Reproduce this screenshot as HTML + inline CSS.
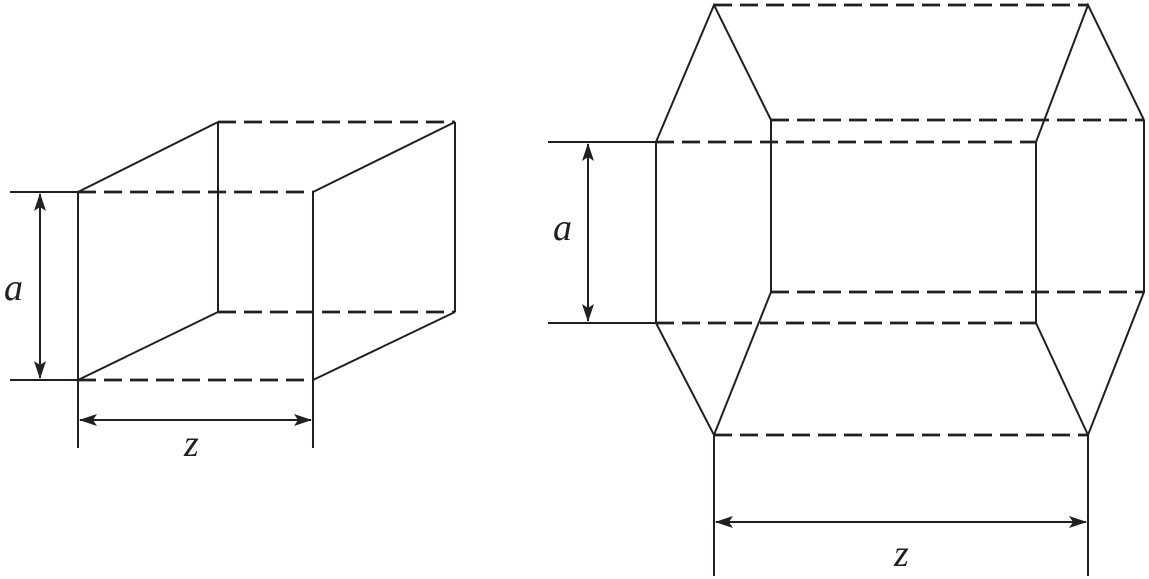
<!DOCTYPE html>
<html><head><style>html,body{margin:0;padding:0;background:#fff}svg{display:block}.t{font-family:"Liberation Serif",serif;font-style:italic;font-size:38px;fill:#231f20}</style></head>
<body>
<svg width="1149" height="579" viewBox="0 0 1149 579" xmlns="http://www.w3.org/2000/svg">
<defs>
<marker id="ar" viewBox="0 0 18 12" refX="17" refY="6" markerWidth="18" markerHeight="12" markerUnits="userSpaceOnUse" orient="auto-start-reverse">
<path d="M0,0 L18,6 L0,12 L4,6 Z" fill="#231f20"/></marker>
</defs>
<g stroke="#231f20" stroke-width="2" fill="none">
<line x1="78" y1="192" x2="78" y2="448"/>
<line x1="313" y1="192" x2="313" y2="448"/>
<line x1="218" y1="122" x2="218" y2="312"/>
<line x1="455" y1="122" x2="455" y2="312"/>
<line x1="78" y1="192" x2="218" y2="122"/>
<line x1="313" y1="192" x2="455" y2="122"/>
<line x1="78" y1="380" x2="218" y2="312"/>
<line x1="313" y1="380" x2="455" y2="312"/>
<line x1="10" y1="192" x2="78" y2="192"/>
<line x1="10" y1="380" x2="78" y2="380"/>
<line x1="40" y1="194" x2="40" y2="378" marker-start="url(#ar)" marker-end="url(#ar)"/>
<line x1="80" y1="420" x2="311" y2="420" marker-start="url(#ar)" marker-end="url(#ar)"/>
<polyline points="771,120 714,5 656,142 656,323 714,435 771,292 771,120"/>
<polyline points="1144,120 1088,5 1036,142 1036,323 1088,435 1144,292 1144,120"/>
<line x1="714" y1="435" x2="714" y2="576"/>
<line x1="1088" y1="435" x2="1088" y2="576"/>
<line x1="548" y1="142" x2="656" y2="142"/>
<line x1="548" y1="323" x2="656" y2="323"/>
<line x1="588" y1="144" x2="588" y2="321" marker-start="url(#ar)" marker-end="url(#ar)"/>
<line x1="716" y1="522" x2="1086" y2="522" marker-start="url(#ar)" marker-end="url(#ar)"/>
</g>
<g stroke="#231f20" stroke-width="2.8" fill="none" stroke-dasharray="18 8">
<line x1="78" y1="192" x2="313" y2="192"/>
<line x1="78" y1="380" x2="313" y2="380"/>
<line x1="218" y1="122" x2="455" y2="122"/>
<line x1="218" y1="312" x2="455" y2="312"/>
<line x1="714" y1="5" x2="1088" y2="5"/>
<line x1="771" y1="120" x2="1144" y2="120"/>
<line x1="771" y1="292" x2="1144" y2="292"/>
<line x1="714" y1="435" x2="1088" y2="435"/>
<line x1="656" y1="142" x2="1036" y2="142"/>
<line x1="656" y1="323" x2="1036" y2="323"/>
</g>
<text class="t" x="4" y="300">a</text>
<text class="t" x="184" y="456">z</text>
<text class="t" x="553" y="240">a</text>
<text class="t" x="894" y="566">z</text>
</svg>
</body></html>
